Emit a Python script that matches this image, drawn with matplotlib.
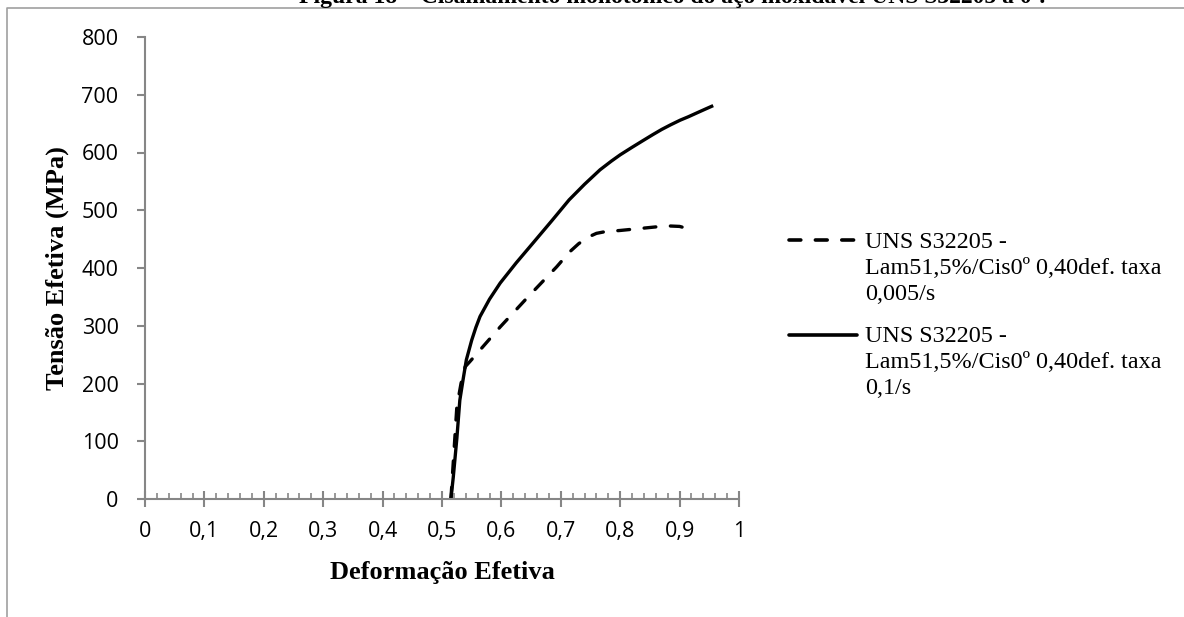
import matplotlib
matplotlib.use("Agg")
import matplotlib.pyplot as plt
from matplotlib.lines import Line2D
from matplotlib.ticker import MultipleLocator, FuncFormatter

# effective strain / effective stress (MPa) for the two shear rates
strain_slow = [0.515, 0.520, 0.525, 0.532, 0.539, 0.547, 0.564, 0.598, 0.643,
               0.693, 0.715, 0.730, 0.745, 0.760, 0.775, 0.800, 0.839, 0.878,
               0.900, 0.918]
stress_slow = [0, 80, 160, 200, 229, 238, 258, 298, 348,
               402, 428, 442, 453, 460, 463, 465, 469, 473,
               472, 467]

strain_fast = [0.515, 0.519, 0.525, 0.530, 0.536, 0.541, 0.550, 0.557, 0.564,
               0.580, 0.598, 0.625, 0.653, 0.685, 0.714, 0.740, 0.766, 0.785,
               0.800, 0.820, 0.839, 0.855, 0.870, 0.885, 0.901, 0.915, 0.930,
               0.943, 0.954]
stress_fast = [0, 38, 105, 171, 210, 241, 275, 297, 316,
               346, 374, 409, 443, 482, 518, 545, 570, 585,
               596, 609, 621, 631, 640, 648, 656, 662, 669,
               675, 680]

labels = [["UNS S32205 -", "Lam51,5%/Cis0º 0,40def. taxa", "0,005/s"],
          ["UNS S32205 -", "Lam51,5%/Cis0º 0,40def. taxa", "0,1/s"]]
title = "Figura 18 – Cisalhamento monotônico do aço inoxidável UNS S32205 a 0º."

plt.rcParams["lines.scale_dashes"] = False
axis_grey = "#868686"
serif = "Liberation Serif"
sans = "Open Sans"
dash = (8.5, 10.5)

W, H = 1184, 617
fig = plt.figure(figsize=(W / 100, H / 100), dpi=100)
ax = fig.add_axes([145 / W, 1 - 499 / H, (739 - 145) / W, (499 - 37) / H])

ax.plot(strain_slow, stress_slow, color="black", lw=2.4,
        dashes=dash, dash_capstyle="round", solid_joinstyle="round")
ax.plot(strain_fast, stress_fast, color="black", lw=2.4,
        solid_joinstyle="round")

ax.set_xlim(0, 1)
ax.set_ylim(0, 800)
ax.xaxis.set_major_locator(MultipleLocator(0.1))
ax.xaxis.set_minor_locator(MultipleLocator(0.02))
ax.yaxis.set_major_locator(MultipleLocator(100))
ax.xaxis.set_major_formatter(FuncFormatter(lambda v, p: f"{v:g}".replace(".", ",")))

for s in ["top", "right"]:
    ax.spines[s].set_visible(False)
for s in ["left", "bottom"]:
    ax.spines[s].set_color(axis_grey)
    ax.spines[s].set_linewidth(1.5)

ax.tick_params(axis="x", which="major", direction="inout", length=12,
               width=1.5, color=axis_grey, pad=10)
ax.tick_params(axis="x", which="minor", direction="in", length=4.5,
               width=1.2, color=axis_grey)
ax.tick_params(axis="y", which="major", direction="out", length=6,
               width=1.5, color=axis_grey, pad=13)
for lab in ax.get_xticklabels() + ax.get_yticklabels():
    lab.set_fontfamily(sans)
    lab.set_fontsize(15.5)

ax.set_xlabel("Deformação Efetiva", family=serif, weight="bold",
              fontsize=19, va="center")
ax.xaxis.set_label_coords(0.5, (499 - 572) / (499 - 37))
ax.set_ylabel("Tensão Efetiva (MPa)", family=serif, weight="bold",
              fontsize=19, va="center")
ax.yaxis.set_label_coords((57 - 145) / (739 - 145), 0.5)

# legend drawn by hand so each handle sits on the first text line
for i, (lines, style) in enumerate(zip(labels, [dash, None])):
    top = 240 + 95 * i
    y = 1 - top / H
    handle = Line2D([789 / W, 857 / W], [y, y], transform=fig.transFigure,
                    color="black", lw=2.6, solid_capstyle="round",
                    dash_capstyle="round")
    if style:
        handle.set_dashes(style)
    fig.add_artist(handle)
    for k, txt in enumerate(lines):
        fig.text(865 / W, 1 - (top + 2 + 26 * k) / H, txt, family=serif,
                 fontsize=17.4, va="center", ha="left")

# page frame and the caption above it
fig.add_artist(Line2D([7 / W, 7 / W, 1], [0, 1 - 8 / H, 1 - 8 / H],
                      transform=fig.transFigure, color="#a0a0a0", lw=1.2))
fig.text(672 / W, 1 - 3 / H, title, family=serif, weight="bold",
         fontsize=17, ha="center", va="baseline")

fig.savefig("out.png", dpi=100)
